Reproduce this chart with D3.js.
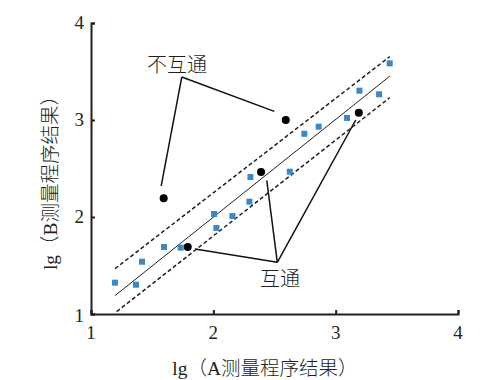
<!DOCTYPE html>
<html><head><meta charset="utf-8">
<script src="https://cdn.jsdelivr.net/npm/d3@7"></script>
<style>body{margin:0;background:#fff}svg{display:block}</style>
</head><body>
<svg id="c" width="489" height="380"></svg>
<script>
// Data
const tickValues = [1, 2, 3, 4];
const blueX = [1.196,1.368,1.417,1.597,1.733,2.006,2.025,2.156,2.295,2.303,2.625,2.744,2.861,3.093,3.194,3.355,3.442];
const blueY = [1.323,1.302,1.539,1.691,1.684,2.031,1.887,2.010,2.158,2.412,2.467,2.858,2.931,3.021,3.302,3.265,3.584];
const blackX = [1.594,1.791,2.390,2.592,3.189];
const blackY = [2.193,1.691,2.464,3.000,3.075];
const fitLine = [[1.196,1.189],[3.442,3.451]];
const upperLine = [[1.196,1.467],[3.442,3.653]];
const lowerLine = [[1.21,1.024],[3.442,3.23]];
// annotation anchors (data coords)
const labelNo = {text:"不互通", x:1.703, y:3.495};
const noApex = [1.742, 3.443];
const noTargets = [[2.498, 3.089],[1.574, 2.320]];
const labelYes = {text:"互通", x:2.545, y:1.289};
const yesApex = [2.523, 1.533];
const yesTargets = [[1.850, 1.670],[2.437, 2.376],[3.164, 3.000]];
const xTitle = "lg（A测量程序结果）";
const yTitle = "lg（B测量程序结果）";

const svg = d3.select("#c");
const x = d3.scaleLinear().domain([1,4]).range([91,458]);
const y = d3.scaleLinear().domain([1,4]).range([314,23]);
const ink = "#231f20";
const numFont = "'Liberation Serif','DejaVu Serif',serif";
const cjkFont = "'Liberation Serif','Noto Sans CJK SC',serif";

// Axes
const xAx = svg.append("g").attr("transform",`translate(0,${y(1)})`)
  .call(d3.axisTop(x).tickValues(tickValues).tickSize(4).tickFormat(""));
const yAx = svg.append("g").attr("transform",`translate(${x(1)},0)`)
  .call(d3.axisRight(y).tickValues(tickValues).tickSize(4).tickFormat(""));
[xAx,yAx].forEach(g=>{
  g.select(".domain").attr("stroke",ink).attr("stroke-width",2);
  g.selectAll(".tick line").attr("stroke",ink).attr("stroke-width",2);
});
// x tick labels
svg.append("g").selectAll("text").data(tickValues).join("text")
  .attr("x",d=>x(d)).attr("y",y(1)+25).attr("text-anchor","middle")
  .attr("font-family",numFont).attr("font-size",19).attr("fill",ink).text(d=>d);
// y tick labels
svg.append("g").selectAll("text").data(tickValues).join("text")
  .attr("x",x(1)-7).attr("y",d=>y(d)+(d===1?8:6)).attr("text-anchor","end")
  .attr("font-family",numFont).attr("font-size",19).attr("fill",ink).text(d=>d);

// titles
svg.append("text").attr("x",265).attr("y",375).attr("text-anchor","middle")
  .attr("font-family",cjkFont).attr("font-weight",300).attr("font-size",19.5).attr("fill",ink).text(xTitle);
svg.append("text").attr("transform","translate(57,178) rotate(-90)").attr("text-anchor","middle")
  .attr("font-family",cjkFont).attr("font-weight",300).attr("font-size",19.5).attr("fill",ink).text(yTitle);

// lines
const line = d3.line().x(d=>x(d[0])).y(d=>y(d[1]));
svg.append("path").attr("d",line(fitLine)).attr("stroke",ink).attr("stroke-width",1).attr("fill","none");
[upperLine,lowerLine].forEach(l=>svg.append("path").attr("d",line(l)).attr("stroke",ink)
  .attr("stroke-width",1.5).attr("stroke-dasharray","4,2.5").attr("fill","none"));

// points
svg.append("g").selectAll("rect").data(blueX.map((v,i)=>[v,blueY[i]])).join("rect")
  .attr("x",d=>x(d[0])-3).attr("y",d=>y(d[1])-3).attr("width",6).attr("height",6).attr("fill","#3a88c8");
svg.append("g").selectAll("circle").data(blackX.map((v,i)=>[v,blackY[i]])).join("circle")
  .attr("cx",d=>x(d[0])).attr("cy",d=>y(d[1])).attr("r",4).attr("fill","#000");

// annotations
noTargets.forEach(t=>svg.append("path").attr("d",line([noApex,t])).attr("stroke","#111").attr("stroke-width",1.5).attr("fill","none"));
yesTargets.forEach(t=>svg.append("path").attr("d",line([yesApex,t])).attr("stroke","#111").attr("stroke-width",1.5).attr("fill","none"));
svg.append("text").attr("x",x(labelNo.x)).attr("y",y(labelNo.y)).attr("text-anchor","middle")
  .attr("font-family",cjkFont).attr("font-weight",300).attr("font-size",20).attr("fill",ink).text(labelNo.text);
svg.append("text").attr("x",x(labelYes.x)).attr("y",y(labelYes.y)).attr("text-anchor","middle")
  .attr("font-family",cjkFont).attr("font-weight",300).attr("font-size",20).attr("fill",ink).text(labelYes.text);
</script>
</body></html>
